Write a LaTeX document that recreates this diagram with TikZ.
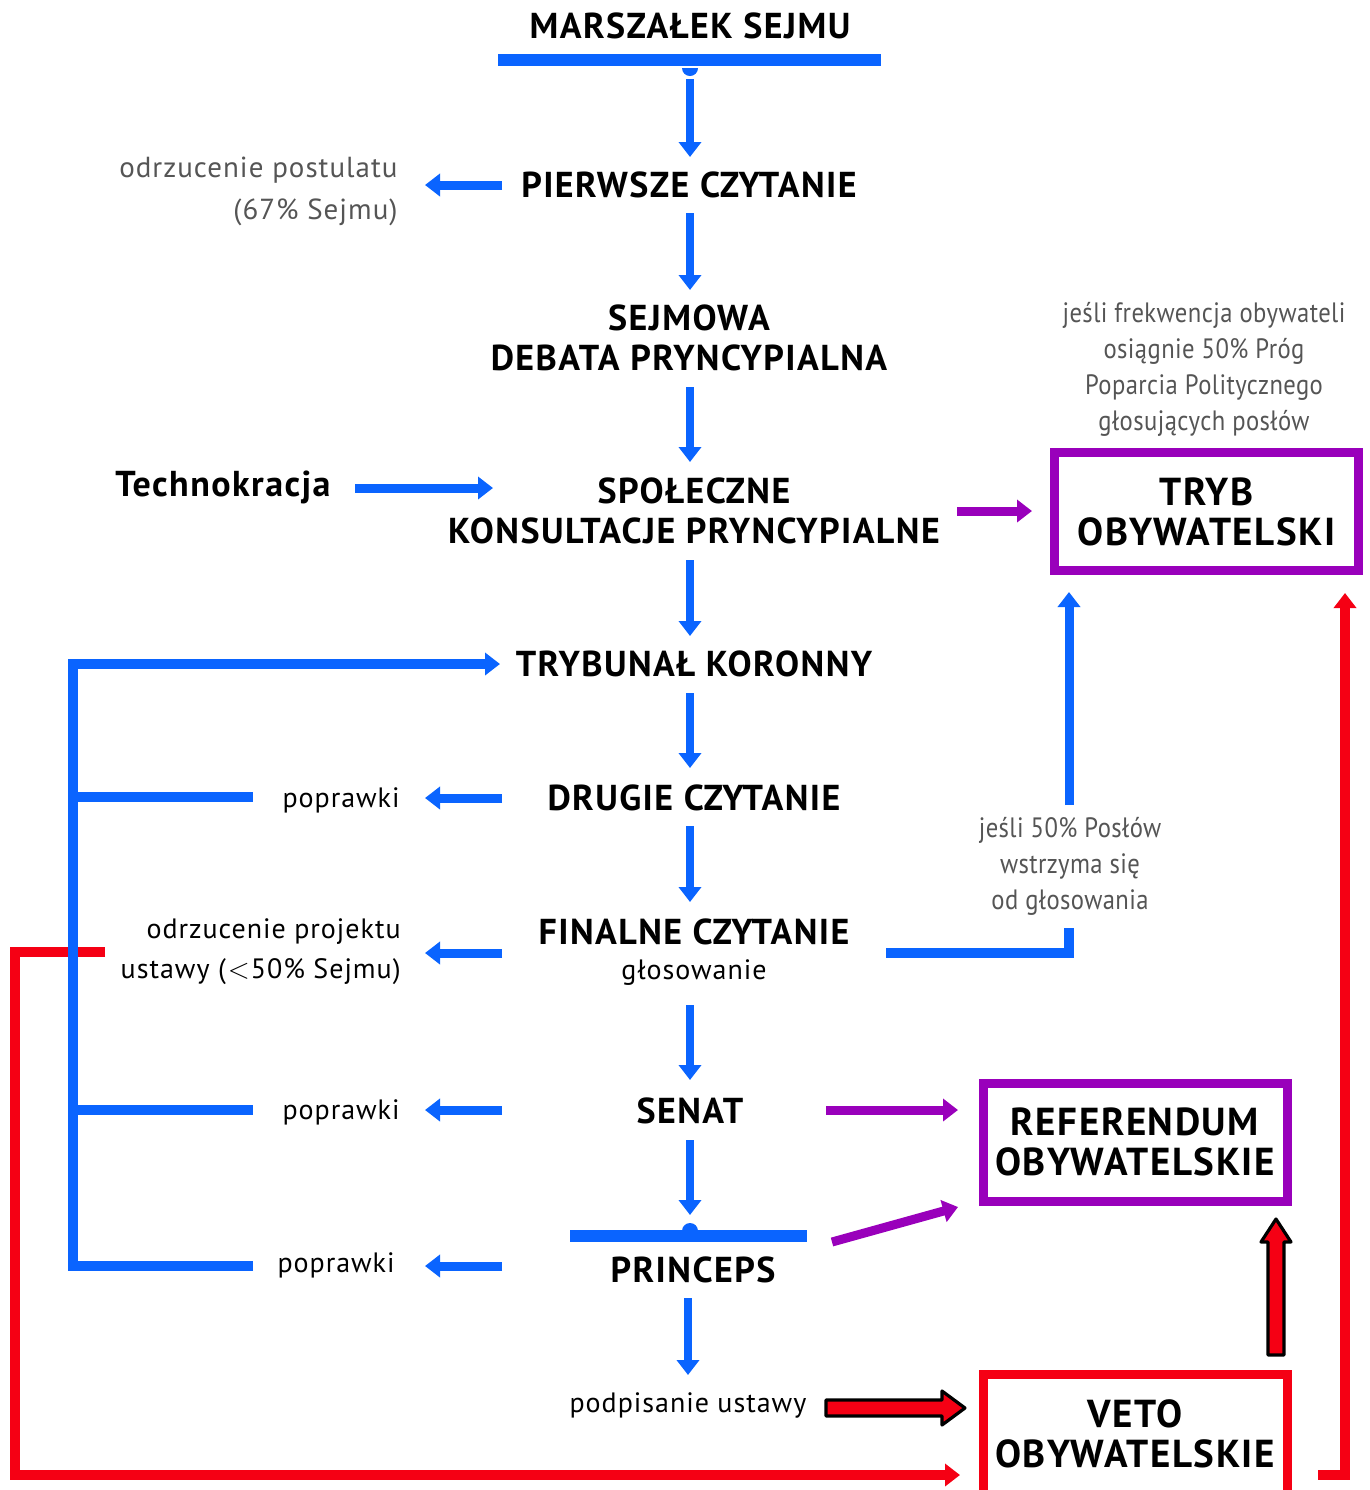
\documentclass[tikz,border=0pt]{standalone}
\usepackage{fontspec}
\setmainfont{PT Sans}
\newfontfamily\hdfont{PT Sans}[LetterSpace=4]
\newfontfamily\lblfont{PT Sans}[LetterSpace=3.5]
\newfontfamily\thinfont{PT Sans}[FakeStretch=0.88,LetterSpace=1.5]
\usetikzlibrary{arrows.meta}
\definecolor{cblue}{RGB}{10,100,255}
\definecolor{cpurple}{RGB}{153,0,187}
\definecolor{cred}{RGB}{245,0,20}
\definecolor{cgray}{RGB}{85,85,85}
\tikzset{
  hd/.style={font=\hdfont\bfseries\fontsize{18}{20}\selectfont, align=center, inner sep=0pt, text=black},
  boxt/.style={font=\hdfont\bfseries\fontsize{19.5}{20}\selectfont, align=center, inner sep=0pt, text=black, line width=4.5pt, minimum width=152pt, minimum height=59pt},
  note/.style={font=\thinfont\fontsize{14}{18}\selectfont, align=center, inner sep=0pt, text=cgray},
  lbl/.style={font=\lblfont\fontsize{14}{20}\selectfont, inner sep=0pt, text=black},
  tipb/.style={-{Triangle[width=11pt,length=7.5pt]}},
  barrow/.style={draw=cblue, line width=4pt, tipb},
  bline/.style={draw=cblue, line width=5pt},
  parrow/.style={draw=cpurple, line width=4.5pt, tipb},
  rline/.style={draw=cred, line width=5pt},
  outarrow/.style={draw=black, fill=cred, line width=1.6pt, line join=round},
}
\begin{document}
\begin{tikzpicture}[x=0.5pt,y=-0.5pt]
\useasboundingbox (0,0) rectangle (1370,1490);
% ---------- text nodes ----------
\node[hd] (ms) at (690,26) {MARSZAŁEK SEJMU};
\node[fill=cblue, inner sep=0pt, minimum width=191.5pt, minimum height=6pt] (bar1) at (689.5,60) {};
\fill[cblue] (682,68) arc[start angle=180, end angle=0, radius=8];
\node[hd] (pc) at (689,185) {PIERWSZE CZYTANIE};
\node[lbl, text=cgray, align=right, anchor=east, font=\lblfont\fontsize{14.5}{21}\selectfont] (op) at (398,191) {odrzucenie postulatu\\(67\% Sejmu)};
\node[hd] (sd) at (689,338) {SEJMOWA\\DEBATA PRYNCYPIALNA};
\node[hd] (tech) at (223,487) {Technokracja};
\node[hd] (sk) at (694,511) {SPOŁECZNE\\KONSULTACJE PRYNCYPIALNE};
\node[note] (nt) at (1204,369) {jeśli frekwencja obywateli\\osiągnie 50\% Próg\\Poparcia Politycznego\\głosujących posłów};
\node[boxt, draw=cpurple] (tryb) at (1206.5,511.5) {TRYB\\OBYWATELSKI};
\node[hd] (tk) at (694,664) {TRYBUNAŁ KORONNY};
\node[hd] (dc) at (694,798) {DRUGIE CZYTANIE};
\node[lbl, anchor=east] (pop1) at (400,800) {poprawki};
\node[hd] (fc) at (694,932) {FINALNE CZYTANIE};
\node[lbl] (glos) at (694,973) {głosowanie};
\node[lbl, align=right, anchor=east] (orp) at (401,952) {odrzucenie projektu\\ustawy (\kern1pt$<$\kern0.5pt50\% Sejmu)};
\node[note] (n50) at (1070,866) {jeśli 50\% Posłów\\wstrzyma się\\od głosowania};
\node[hd] (sen) at (690,1111) {SENAT};
\node[lbl, anchor=east] (pop2) at (400,1112) {poprawki};
\node[boxt, draw=cpurple] (ref) at (1135,1142) {REFERENDUM\\OBYWATELSKIE};
\node[fill=cblue, inner sep=0pt, minimum width=118.5pt, minimum height=6pt] (bar2) at (688.5,1236) {};
\fill[cblue] (682,1231) arc[start angle=180, end angle=360, radius=8];
\node[hd] (pr) at (693,1270) {PRINCEPS};
\node[lbl, anchor=east] (pop3) at (395,1265) {poprawki};
\node[lbl] (pu) at (688,1405) {podpisanie ustawy};
\node[boxt, draw=cred, minimum height=60pt] (veto) at (1135,1434) {VETO\\OBYWATELSKIE};
% ---------- coordinates ----------
\coordinate (m1) at (690,79);   \coordinate (m2) at (690,157);
\coordinate (p1) at (690,213);  \coordinate (p2) at (690,290);
\coordinate (s1) at (690,387);  \coordinate (s2) at (690,462);
\coordinate (k1) at (690,560);  \coordinate (k2) at (690,636);
\coordinate (t1) at (690,693);  \coordinate (t2) at (690,768);
\coordinate (d1) at (690,826);  \coordinate (d2) at (690,902);
\coordinate (f1) at (690,1005); \coordinate (f2) at (690,1080);
\coordinate (e1) at (690,1140); \coordinate (e2) at (690,1215);
\coordinate (r1) at (688,1298); \coordinate (r2) at (688,1375);
\coordinate (pcL) at (502,185); \coordinate (opR) at (425,185);
\coordinate (techR) at (355,488); \coordinate (skL) at (493,488);
\coordinate (skR) at (957,511); \coordinate (trybL) at (1032,511);
\coordinate (dcL) at (502,798); \coordinate (pop1R) at (425,798);
\coordinate (fcL) at (502,953); \coordinate (orpR) at (425,953);
\coordinate (senL) at (502,1110); \coordinate (pop2R) at (425,1110);
\coordinate (prL) at (502,1266); \coordinate (pop3R) at (425,1266);
\coordinate (senR) at (826,1110); \coordinate (refL1) at (958,1110);
\coordinate (prR) at (832,1242); \coordinate (refL2) at (958,1207);
\coordinate (tkL) at (500,664);
\coordinate (busB1) at (253,797); \coordinate (busB2) at (253,1110);
\coordinate (busB3) at (253,1266);
\coordinate (fcR) at (886,953); \coordinate (n50b) at (1069,928);
\coordinate (n50t) at (1069,805); \coordinate (trybB) at (1069,592);
\coordinate (redA) at (105,952); \coordinate (vetoL) at (960,1475);
\coordinate (redB) at (1318,1475); \coordinate (trybBR) at (1345,593);
% ---------- red lines (under blue) ----------
\draw[rline, line join=miter, tipb] (redA) -- (15,952) -- (15,1475) -- (vetoL);
\draw[rline, line join=miter, tipb] (redB) -- (1345,1475) -- (trybBR);
% ---------- blue vertical flow ----------
\foreach \a/\b in {m1/m2,p1/p2,s1/s2,k1/k2,t1/t2,d1/d2,f1/f2,e1/e2,r1/r2}
  \draw[barrow] (\a) -- (\b);
% ---------- blue side arrows ----------
\foreach \a/\b in {pcL/opR,techR/skL,dcL/pop1R,fcL/orpR,senL/pop2R,prL/pop3R}
  \draw[barrow, line width=4.5pt] (\a) -- (\b);
% bus
\draw[barrow, line width=5pt, line join=miter] (busB3) -- (73,1266) -- (73,664) -- (tkL);
\draw[bline] (73,797) -- (busB1);
\draw[bline] (73,1110) -- (busB2);
% right branch
\draw[bline, line join=miter] (fcR) -- (1069,953) -- (n50b);
\draw[barrow, line width=4.5pt] (n50t) -- (trybB);
% ---------- purple ----------
\draw[parrow] (skR) -- (trybL);
\draw[parrow] (senR) -- (refL1);
\draw[parrow] (prR) -- (refL2);
% ---------- outlined red arrows ----------
\draw[outarrow] (826,1400) -- (942,1400) -- (942,1391) -- (965,1408) -- (942,1425) -- (942,1416) -- (826,1416) -- cycle;
\draw[outarrow] (1268,1355) -- (1268,1242) -- (1261,1242) -- (1276,1219) -- (1291,1242) -- (1284,1242) -- (1284,1355) -- cycle;
\end{tikzpicture}
\end{document}
